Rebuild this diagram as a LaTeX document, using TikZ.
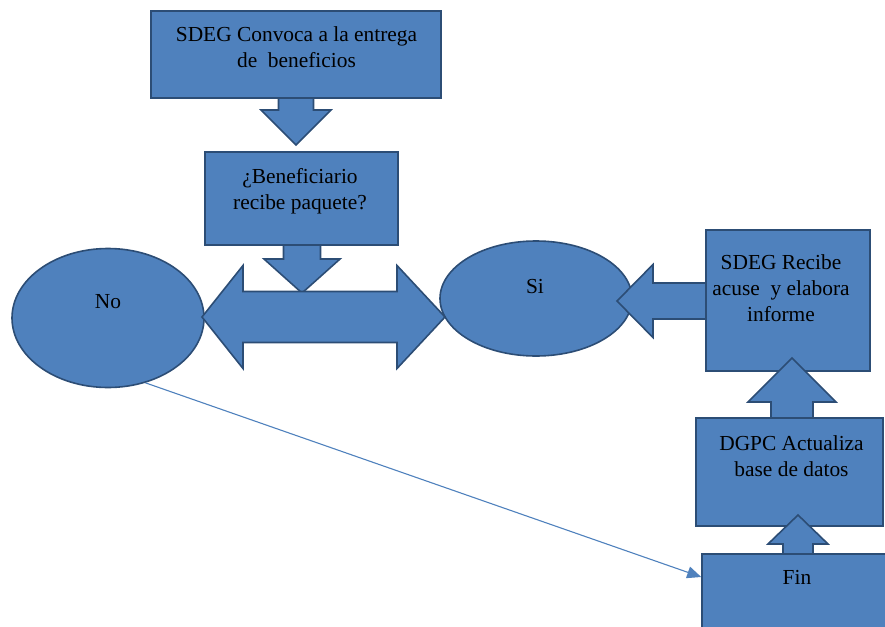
\documentclass[tikz,border=0pt]{standalone}
\usepackage{fontspec}
\setmainfont{Liberation Serif}
\usetikzlibrary{arrows.meta,shapes.geometric}
\definecolor{caja}{HTML}{4F81BD}
\definecolor{borde}{HTML}{2C4D75}
\tikzset{
  forma/.style={fill=caja, draw=borde, line width=1.6pt},
  caja/.style={forma, rectangle, inner sep=0pt},
  globo/.style={forma, ellipse, inner sep=0pt},
  txt/.style={align=center, inner sep=0pt, font=\fontsize{21.4}{26}\selectfont},
  liga/.style={draw=caja, line width=1.1pt, -{Triangle[length=14pt,width=12pt]}}
}
% flecha vertical: x, y inicio, y base punta, y punta, medio cuerpo, media punta
\newcommand{\flechaV}[6]{\draw[forma] (#1-#5,#2) -- (#1-#5,#3) -- (#1-#6,#3) -- (#1,#4) -- (#1+#6,#3) -- (#1+#5,#3) -- (#1+#5,#2) -- cycle;}
% flecha horizontal: y, x inicio, x base punta, x punta, medio cuerpo, media punta
\newcommand{\flechaH}[6]{\draw[forma] (#2,#1-#5) -- (#3,#1-#5) -- (#3,#1-#6) -- (#4,#1) -- (#3,#1+#6) -- (#3,#1+#5) -- (#2,#1+#5) -- cycle;}
\begin{document}
\begin{tikzpicture}[x=1pt,y=-1pt]
				\useasboundingbox (0,0) rectangle (885,626);
				\clip (0,0) rectangle (885,626);
				% cajas y globos
				\node[caja, minimum width=290pt, minimum height=87pt] (convoca) at (296,54.5) {};
				\node[caja, minimum width=193pt, minimum height=93pt] (pregunta) at (301.5,198.5) {};
				\node[globo, minimum width=192pt, minimum height=139pt] (no) at (108,318) {};
				\node[globo, minimum width=192pt, minimum height=115pt] (si) at (536,298.5) {};
				\node[caja, minimum width=164pt, minimum height=141pt] (recibe) at (788,300.5) {};
				\node[caja, minimum width=187pt, minimum height=108pt] (actualiza) at (789.5,472) {};
				\node[caja, minimum width=198pt, minimum height=96pt] (fin) at (801,602) {};
				% flechas de bloque
				\flechaV{296}{98}{110}{145}{17.5}{35}
				\flechaV{302}{245}{259}{293}{18.5}{38}
				\draw[forma] (202,317) -- (243,265.5) -- (243,291.5) -- (397,291.5) -- (397,265.5) -- (445,317)
				  -- (397,368.5) -- (397,342.5) -- (243,342.5) -- (243,368.5) -- cycle;
				\flechaH{301}{706}{653}{617}{18}{36.5}
				\flechaV{792}{418}{402}{358}{21}{44}
				\flechaV{798}{554}{544}{515}{15}{30}
				% textos
				\node[txt] (convocaTxt) at (296.5,47) {SDEG Convoca a la entrega\\de~ beneficios};
				\node[txt] (preguntaTxt) at (300,191) {¿Beneficiario\\recibe paquete?};
				\node[txt] (noTxt) at (108,302) {No};
				\node[txt] (siTxt) at (535,287) {Si};
				\node[txt] (recibeTxt) at (781,288) {SDEG Recibe\\acuse~ y elabora\\informe};
				\node[txt] (actualizaTxt) at (791.5,456.5) {DGPC Actualiza\\base de datos};
				\node[txt] (finTxt) at (797,577) {Fin};
				\draw[liga] (no.-60) -- (fin.west |- finTxt);
			\end{tikzpicture}
\end{document}
